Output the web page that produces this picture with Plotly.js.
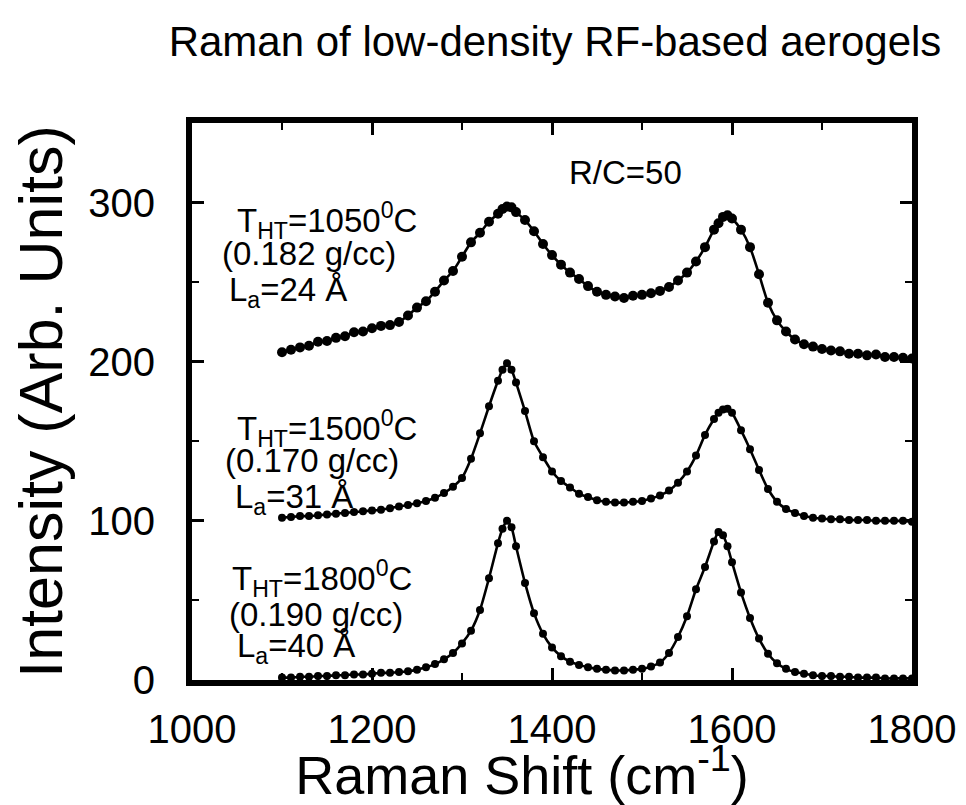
<!DOCTYPE html>
<html>
<head>
<meta charset="utf-8">
<script src="https://cdn.plot.ly/plotly-3.0.1.min.js"></script>
<style>
  html, body { margin: 0; padding: 0; background: #fff; }
  #chart { width: 966px; height: 805px; }
</style>
</head>
<body>
<div id="chart"></div>
<script>
// Raman shift grid (cm^-1), shared by the three spectra
const ramanShift = [1100,1110,1120,1130,1140,1150,1160,1170,1180,1190,1200,1210,1220,1230,1240,1250,1260,1270,1280,1290,1300,1310,1320,1330,1340,1345,1350,1355,1360,1370,1380,1390,1400,1410,1420,1430,1440,1450,1460,1470,1480,1490,1500,1510,1520,1530,1540,1550,1560,1570,1580,1585,1590,1595,1600,1610,1620,1630,1640,1650,1660,1670,1680,1690,1700,1710,1720,1730,1740,1750,1760,1770,1780,1790,1800];

// Intensity (arb. units), offset by 200 / 100 / 0
const intensity1050 = [206,207.5,209,210,212.5,213,215,216,218.5,219,221,222.5,223,225,229,234,238,244,251,257,266,275,281,288,293,296,297.5,297,294,289,282,274,267,261,256,252,247.5,244,242,241,240,241.5,242,243,244.5,247,251,256,263,272,283,287,291,292,290,283,272,255,237,226,219,214,211,209.5,208,207,206.5,205,205,204,204.5,203,203,202.5,202];
const intensity1500 = [102,102.5,103,103,103.5,104,104.5,105,105.5,106,106.5,107,108,109,110,111,112.5,114.5,117.5,121.5,127,139,155,172,188,195,199,195,187,169,150,140,131,125,121,117,115,113,112,111.5,111.5,112,112.5,114,116,119,124,131,141,154,164,168,170,170.5,168,157,145,132,120,112,107.5,105,103,102,101.5,101,101,100.5,100.5,100.5,100,100,100,100,99.5];
const intensity1800 = [1.5,1.5,2,2,2.5,2.5,3,3,3.5,3.5,4,4.5,4.5,5,5.5,6.5,8,10,13,17,23,31,44,64,86,95,100,96,84,61,42,29,20.5,15,11.5,9.5,8,7,6.5,6,6,6.5,7,8.5,11,17,27,40,57,71,87,93,91,84,74,55,39,26,16.5,10.5,7,5,4,3,2.5,2.5,2,2,1.5,1.5,1.5,1,1,1,1];

// Sample annotations
const treatTemps = ['1050', '1500', '1800'];
const densities = ['0.182', '0.170', '0.190'];
const crystalSizes = ['24', '31', '40'];

const xTicks = [1000, 1200, 1400, 1600, 1800];
const yTicks = [0, 100, 200, 300];

const FONT = 'Liberation Sans, Arial, Helvetica, sans-serif';

function spectrum(y, msize) {
  return {
    x: ramanShift, y: y,
    type: 'scatter', mode: 'lines+markers',
    line: { color: '#000', width: 2.6, shape: 'spline', smoothing: 0.6 },
    marker: { color: '#000', size: msize, symbol: 'circle' },
    showlegend: false, hoverinfo: 'x+y'
  };
}

const traces = [
  spectrum(intensity1050, 10),
  spectrum(intensity1500, 8),
  spectrum(intensity1800, 8)
];

// label rows: [x (data), y (data)] for the T, density and La lines of each block
const blockRows = [
  [[1048, 289], [1031, 268], [1039, 244]],
  [[1048, 158], [1034, 138], [1045, 114]],
  [[1042, 64],  [1039, 41],  [1048, 20]]
];

const annotations = [];
blockRows.forEach(function (rows, i) {
  const texts = [
    'T<sub>HT</sub>=' + treatTemps[i] + '<sup>0</sup>C',
    '(' + densities[i] + ' g/cc)',
    'L<sub>a</sub>=' + crystalSizes[i] + ' Å'
  ];
  rows.forEach(function (p, j) {
    annotations.push({
      x: p[0], y: p[1], xref: 'x', yref: 'y',
      text: texts[j], showarrow: false,
      xanchor: 'left', yanchor: 'middle',
      font: { family: FONT, size: 33, color: '#000' }
    });
  });
});
annotations.push({
  x: 1482, y: 319, xref: 'x', yref: 'y',
  text: 'R/C=50', showarrow: false,
  xanchor: 'center', yanchor: 'middle',
  font: { family: FONT, size: 33, color: '#000' }
});

const axisCommon = {
  showgrid: false, zeroline: false,
  showline: true, linewidth: 6, linecolor: '#000',
  mirror: 'ticks',
  ticks: 'inside', ticklen: 12, tickwidth: 3, tickcolor: '#000',
  tickfont: { family: FONT, size: 40, color: '#000' }
};

const layout = {
  width: 966, height: 805,
  margin: { l: 192, r: 54, t: 123, b: 125, pad: 0 },
  paper_bgcolor: '#fff', plot_bgcolor: '#fff',
  title: {
    text: 'Raman of low-density RF-based aerogels',
    font: { family: FONT, size: 42, color: '#000' },
    x: 555 / 966, xref: 'container', xanchor: 'center',
    y: 1 - 41 / 805, yref: 'container', yanchor: 'middle'
  },
  xaxis: Object.assign({}, axisCommon, {
    range: [1000, 1800],
    tickmode: 'array', tickvals: xTicks, ticktext: xTicks.map(String),
    minor: { dtick: 100, tick0: 1000, ticks: 'inside', ticklen: 7, tickwidth: 2, tickcolor: '#000' },
    ticklabelstandoff: 9,
    title: {
      text: 'Raman Shift (cm<sup>-1</sup>)&nbsp;&nbsp;&nbsp;&nbsp;',
      font: { family: FONT, size: 54, color: '#000' },
      standoff: 6
    }
  }),
  yaxis: Object.assign({}, axisCommon, {
    range: [0, 350],
    tickmode: 'array', tickvals: yTicks, ticktext: yTicks.map(String),
    minor: { dtick: 50, tick0: 0, ticks: 'inside', ticklen: 7, tickwidth: 2, tickcolor: '#000' },
    ticklabelstandoff: 23,
    title: {
      text: 'Intensity (Arb. Units)',
      font: { family: FONT, size: 61, color: '#000' },
      standoff: 8
    }
  }),
  annotations: annotations
};

Plotly.newPlot('chart', traces, layout, { staticPlot: true, displayModeBar: false });
</script>
</body>
</html>
